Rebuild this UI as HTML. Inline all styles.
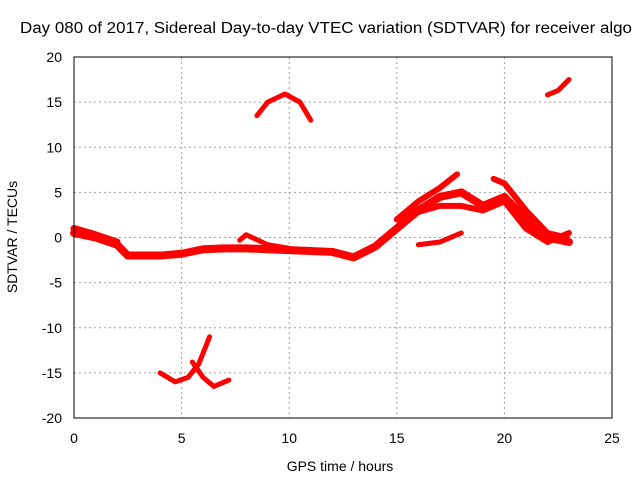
<!DOCTYPE html>
<html><head><meta charset="utf-8"><style>
body{margin:0;background:#fff}
svg text{font-family:"Liberation Sans",sans-serif;font-size:14px;fill:#000}
</style></head><body>
<svg id="c" width="640" height="480">
<text x="20" y="33" textLength="612" lengthAdjust="spacingAndGlyphs" style="font-size:15.5px">Day 080 of 2017, Sidereal Day-to-day VTEC variation (SDTVAR) for receiver algo</text>
<text x="340" y="471" text-anchor="middle">GPS time / hours</text>
<text transform="translate(17,237) rotate(-90)" text-anchor="middle">SDTVAR / TECUs</text>
<g id="grid"></g><g id="series"></g>
<rect x="74" y="57" width="538" height="361" fill="none" stroke="#000"/>
</svg>
<script>
const xTicks=[0,5,10,15,20,25];
const yTicks=[-20,-15,-10,-5,0,5,10,15,20];
const s1H=[0,1,2,2.5,4,5,6,7,8,9,10,11,12,13,14,15,16,17,18,19,20,21,22,23];
const s1V=[0.5,0,-0.8,-2,-2,-1.8,-1.3,-1.2,-1.2,-1.3,-1.4,-1.5,-1.6,-2.2,-1,1,3,4.5,5,3.5,4.5,2,0,-0.5];
const s2H=[15,16,17,17.8];const s2V=[2,4,5.5,7];
const s3H=[15.5,17,18,19,20,21,22,23];const s3V=[2.5,3.5,3.5,3,4,1,-0.5,0.5];
const s4H=[19.5,20,21,22,22.9];const s4V=[6.5,6,3,0.5,0];
const s5H=[16,17,18];const s5V=[-0.8,-0.5,0.5];
const s6H=[7.7,8,9,10];const s6V=[-0.3,0.3,-0.8,-1.2];
const s7H=[8.5,9,9.8,10.5,11];const s7V=[13.5,15,15.9,15,13];
const s8H=[22,22.5,23];const s8V=[15.8,16.3,17.5];
const s9H=[4,4.7,5.3,5.8,6.3];const s9V=[-15,-16,-15.5,-14,-11];
const s10H=[5.5,6,6.5,7.2];const s10V=[-13.8,-15.5,-16.5,-15.8];
const s11H=[0,1,2];const s11V=[1,0.3,-0.5];
const X=h=>74+h*538/25, Y=v=>237.5-v*361/40;
const NS="http://www.w3.org/2000/svg";
const g=document.getElementById('grid'), sg=document.getElementById('series');
function mk(p,tag,a){const e=document.createElementNS(NS,tag);for(const k in a)e.setAttribute(k,a[k]);p.appendChild(e);return e;}
xTicks.forEach(t=>{
 const l=mk(g,'line',{x1:X(t),x2:X(t),y1:57,y2:418,stroke:'#a0a0a0','stroke-dasharray':'2,3'});
 
 
 const tx=mk(g,'text',{x:X(t),y:443,'text-anchor':'middle'});tx.textContent=t;
 
 
});
yTicks.forEach(t=>{
 const l=mk(g,'line',{x1:74,x2:612,y1:Y(t),y2:Y(t),stroke:'#a0a0a0','stroke-dasharray':'2,3'});
 
 
 const tx=mk(g,'text',{x:62,y:Y(t)+5,'text-anchor':'end'});tx.textContent=t;
 
 
});
const all=[[s1H,s1V,8],[s2H,s2V,6],[s3H,s3V,6],[s4H,s4V,6],[s5H,s5V,5],[s6H,s6V,5],[s7H,s7V,5],[s8H,s8V,5],[s9H,s9V,5],[s10H,s10V,5],[s11H,s11V,7]];
all.forEach(([H,V,w])=>{
 const pts=H.map((h,i)=>X(h)+','+Y(V[i])).join(' ');
 const p=mk(sg,'polyline',{points:pts,fill:'none',stroke:'#f00','stroke-width':w,'stroke-linejoin':'round','stroke-linecap':'round'});
 
 
});
</script>
</body></html>
